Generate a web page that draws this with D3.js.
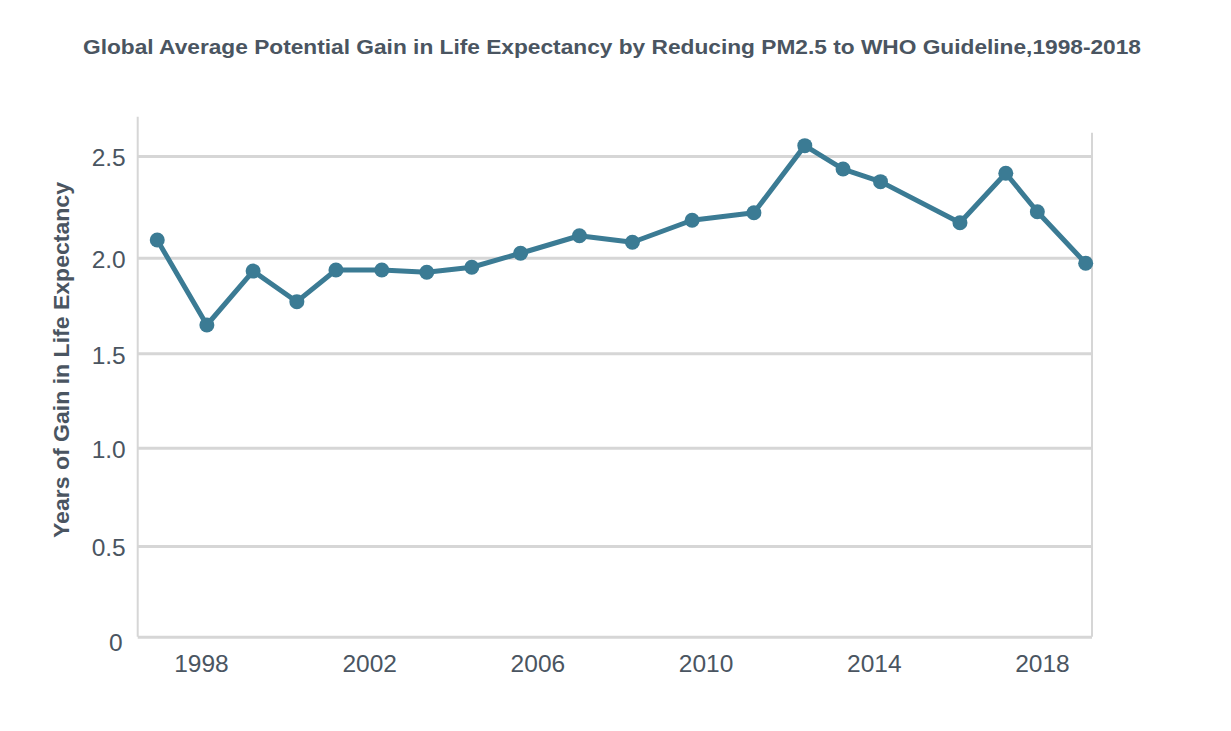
<!DOCTYPE html>
<html>
<head>
<meta charset="utf-8">
<script src="https://cdn.jsdelivr.net/npm/d3@7"></script>
<style>
  html, body { margin: 0; padding: 0; background: #ffffff; }
  svg { display: block; }
  text { font-family: "Liberation Sans", Arial, sans-serif; }
</style>
</head>
<body>
<svg id="chart" width="1231" height="731"></svg>
<script>
// ---- data ----
const chartTitle = "Global Average Potential Gain in Life Expectancy by Reducing PM2.5 to WHO Guideline,1998-2018";
const yAxisTitle = "Years of Gain in Life Expectancy";
// positions of the points along the time axis (in years, as placed in the original)
const years = [1996.96, 1998.14, 1999.24, 2000.28, 2001.21, 2002.30, 2003.37, 2004.44, 2005.60, 2007.00,
               2008.26, 2009.68, 2011.15, 2012.36, 2013.27, 2014.16, 2016.05, 2017.14, 2017.89, 2019.04];
const gains = [2.087, 1.648, 1.930, 1.770, 1.936, 1.936, 1.924, 1.950, 2.022, 2.108,
               2.076, 2.184, 2.221, 2.551, 2.436, 2.374, 2.172, 2.415, 2.226, 1.971];
const xTickValues = [1998, 2002, 2006, 2010, 2014, 2018];
const yTickValues = [0, 0.5, 1.0, 1.5, 2.0, 2.5];
const yTickLabels = ["0", "0.5", "1.0", "1.5", "2.0", "2.5"];

// ---- layout ----
const svg = d3.select("#chart");
const plot = { left: 137.7, right: 1092, bottom: 636.7, topLeft: 116.7, topRight: 132.7 };
const textColor = "#4a5561";
const gridColor = "#d6d6d6";
const lineColor = "#3b7b94";

const x = d3.scaleLinear().domain([1996.495, 2019.19]).range([plot.left, plot.right]);
// gridlines in the original are not evenly spaced; follow them piecewise
const y = d3.scaleLinear().domain(yTickValues).range([636.7, 546, 447.7, 353.3, 257.7, 156]);

// title
svg.append("text")
  .attr("x", 612).attr("y", 54)
  .attr("text-anchor", "middle")
  .attr("font-size", 21).attr("font-weight", "bold")
  .attr("fill", textColor)
  .attr("textLength", 1058).attr("lengthAdjust", "spacingAndGlyphs")
  .text(chartTitle);

// y gridlines
const yAxis = d3.axisLeft(y).tickValues(yTickValues)
  .tickSize(-(plot.right - plot.left))
  .tickFormat((d, i) => yTickLabels[i]);
const gy = svg.append("g").attr("transform", `translate(${plot.left},0)`).call(yAxis);
gy.select(".domain").remove();
gy.selectAll(".tick line").attr("stroke", gridColor).attr("stroke-width", 3);
gy.selectAll(".tick text")
  .attr("x", -12).attr("dy", "0.4em")
  .attr("font-size", 24.5).attr("fill", textColor)
  .attr("font-family", "Liberation Sans, Arial, sans-serif");
gy.selectAll(".tick").filter(d => d === 0).select("text").attr("x", -15).attr("dy", "0.55em");

// borders
svg.append("line").attr("x1", plot.left).attr("x2", plot.left)
  .attr("y1", plot.topLeft).attr("y2", plot.bottom)
  .attr("stroke", gridColor).attr("stroke-width", 2);
svg.append("line").attr("x1", plot.right).attr("x2", plot.right)
  .attr("y1", plot.topRight).attr("y2", plot.bottom)
  .attr("stroke", gridColor).attr("stroke-width", 2);

// x axis labels
const xAxis = d3.axisBottom(x).tickValues(xTickValues).tickSize(0).tickFormat(d3.format("d"));
const gx = svg.append("g").attr("transform", `translate(0,${plot.bottom})`).call(xAxis);
gx.select(".domain").remove();
gx.selectAll(".tick text")
  .attr("y", 35).attr("dy", 0)
  .attr("font-size", 24.5).attr("fill", textColor)
  .attr("font-family", "Liberation Sans, Arial, sans-serif");

// y axis title
svg.append("text")
  .attr("transform", "translate(69,360) rotate(-90)")
  .attr("text-anchor", "middle")
  .attr("font-size", 22).attr("font-weight", "bold")
  .attr("fill", textColor)
  .attr("textLength", 356).attr("lengthAdjust", "spacingAndGlyphs")
  .text(yAxisTitle);

// line + points
const pts = years.map((yr, i) => ({ yr, v: gains[i] }));
const line = d3.line().x(d => x(d.yr)).y(d => y(d.v));
svg.append("path").datum(pts)
  .attr("d", line)
  .attr("fill", "none")
  .attr("stroke", lineColor)
  .attr("stroke-width", 5)
  .attr("stroke-linejoin", "round");
svg.append("g").selectAll("circle").data(pts).join("circle")
  .attr("cx", d => x(d.yr)).attr("cy", d => y(d.v))
  .attr("r", 7.5).attr("fill", lineColor);
</script>
</body>
</html>
